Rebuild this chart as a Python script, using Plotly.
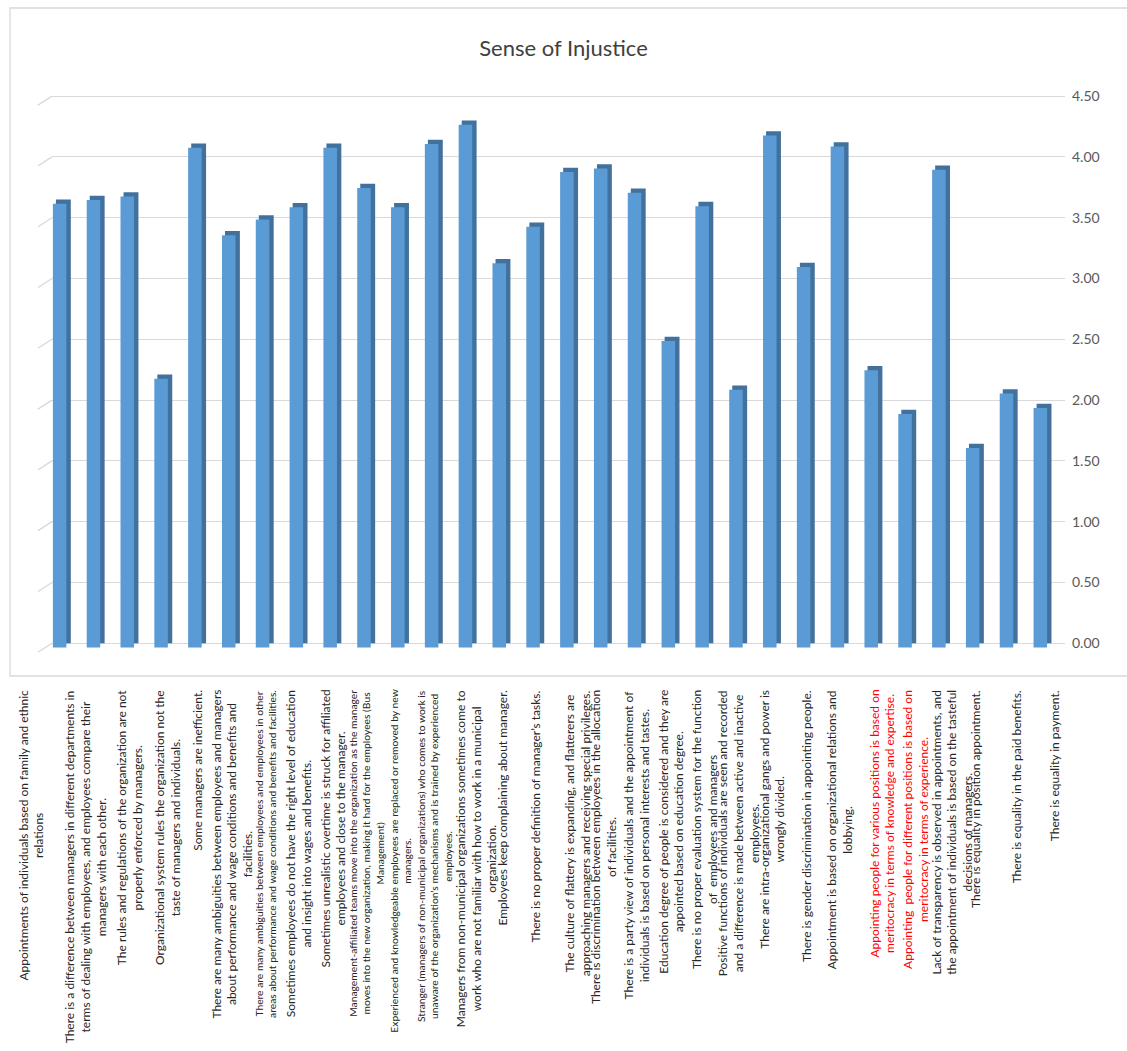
import plotly.graph_objects as go

# Survey statements (category axis) and their mean scores
statements = [
    "Appointments of individuals based on family and ethnic<br>relations",
    "There is a difference between managers in different departments in<br>terms of dealing with employees, and employees compare their<br>managers with each other.",
    "The rules and regulations of the organization are not<br>properly enforced by managers.",
    "Organizational system rules the organization not the<br>taste of managers and individuals.",
    "Some managers are inefficient.",
    "There are many ambiguities between employees and managers<br>about performance and wage conditions and benefits and<br>facilities.",
    "There are many ambiguities between employees and employees in other<br>areas about performance and wage conditions and benefits and facilities.",
    "Sometimes employees do not have the right level of education<br>and insight into wages and benefits.",
    "Sometimes unrealistic overtime is struck for affiliated<br>employees and close to the manager.",
    "Management-affiliated teams move into the organization as the manager<br>moves into the new organization, making it hard for the employees (Bus<br>Management)",
    "Experienced and knowledgeable employees are replaced or removed by new<br>managers.",
    "Stranger (managers of non-municipal organizations) who comes to work is<br>unaware of the organization\u2019s mechanisms and is trained by experienced<br>employees.",
    "Managers from non-municipal organizations sometimes come to<br>work who are not familiar with how to work in a municipal<br>organization.",
    "Employees keep complaining about manager.",
    "There is no proper definition of manager\u2019s tasks.",
    "The culture of flattery is expanding, and flatterers are<br>approaching managers and receiving special privileges.",
    "There is discrimination between employees in the allocation<br>of facilities.",
    "There is a party view of individuals and the appointment of<br>individuals is based on personal interests and tastes.",
    "Education degree of people is considered and they are<br>appointed based on education degree.",
    "There is no proper evaluation system for the function<br>of  employees and managers",
    "Positive functions of individuals are seen and recorded<br>and a difference is made between active and inactive<br>employees.",
    "There are intra-organizational gangs and power is<br>wrongly divided.",
    "There is gender discrimination in appointing people.",
    "Appointment is based on organizational relations and<br>lobbying.",
    "Appointing people for various positions is based on<br>meritocracy in terms of knowledge and expertise.",
    "Appointing  people for different positions is based on<br>meritocracy in terms of experience.",
    "Lack of transparency is observed in appointments, and<br>the appointment of individuals is based on the tasteful<br>decisions of managers.",
    "There is equality in position appointment.",
    "There is equality in the paid benefits.",
    "There is equality in payment.",
]

scores = [3.65, 3.68, 3.71, 2.21, 4.11, 3.39, 3.52, 3.62, 4.11, 3.78,
          3.62, 4.14, 4.30, 3.16, 3.46, 3.91, 3.94, 3.74, 2.52, 3.63,
          2.12, 4.21, 3.13, 4.12, 2.28, 1.92, 3.93, 1.64, 2.09, 1.97]

tick_values = [0.0, 0.5, 1.0, 1.5, 2.0, 2.5, 3.0, 3.5, 4.0, 4.5]
tick_labels = ["0.00", "0.50", "1.00", "1.50", "2.00", "2.50", "3.00", "3.50", "4.00", "4.50"]

title_text = "Sense of Injustice"

# statements highlighted in red / set in a smaller type
red_items = {24, 25}
small_items = {6, 9, 10, 11}

# ---- layout geometry (pixels) ----
W, H = 1127, 1051
PLOT_L, PLOT_R = 52, 1065
PLOT_T, PLOT_B = 90, 653
Y_RANGE = [-0.08, 4.55]
X_RANGE = [-0.296, len(statements) - 1 + 0.66]
LABEL_TOP = 688

FRONT = "#5B9BD5"
DEPTH = "#41719C"
GRID = "#D9D9D9"
FONT = "Lato"


def paper_x(px):
    return (px - PLOT_L) / (PLOT_R - PLOT_L)


def paper_y(py):
    return (PLOT_B - py) / (PLOT_B - PLOT_T)


fig = go.Figure()

# darker block behind each column: gives the right side and top bevel
fig.add_trace(go.Bar(
    x=statements, y=scores, base=0.0,
    offset=-0.18, width=0.44,
    marker=dict(color=DEPTH, line=dict(width=0)),
    hoverinfo="skip", showlegend=False,
))
# front face of each column
fig.add_trace(go.Bar(
    x=statements, y=scores, base=-0.035,
    offset=-0.27, width=0.40,
    marker=dict(color=FRONT, line=dict(width=0)),
    showlegend=False,
))

shapes = []
# chart frame
shapes.append(dict(type="rect", xref="paper", yref="paper",
                   x0=paper_x(10), x1=paper_x(1140), y0=paper_y(676), y1=paper_y(8),
                   line=dict(color=GRID, width=1.3), fillcolor="rgba(0,0,0,0)", layer="below"))
# small receding side-wall segments at the left end of every gridline
for tv in tick_values:
    shapes.append(dict(type="line", xref="paper", yref="y",
                       xsizemode="pixel", xanchor=0, x0=-14, x1=0,
                       ysizemode="pixel", yanchor=tv, y0=-9, y1=0,
                       line=dict(color=GRID, width=1.3), layer="below"))

annotations = []
# horizontal nudges of individual statement labels (pixels)
x_shift = {0: -31, 1: -11, 3: 4, 12: 8, 15: 8, 24: 8, 25: 8, 26: 10, 28: 8, 29: 12}
for i, text in enumerate(statements):
    annotations.append(dict(
        x=i, xref="x", y=0, yref="paper",
        yshift=-(LABEL_TOP - PLOT_B), xshift=x_shift.get(i, 0),
        text=text, showarrow=False, textangle=-90,
        xanchor="center", yanchor="top", align="center",
        font=dict(family=FONT, size=10.3 if i in small_items else 12,
                  color="#FF0000" if i in red_items else "#262626"),
    ))

fig.update_layout(
    width=W, height=H, autosize=False,
    margin=dict(l=PLOT_L, r=W - PLOT_R, t=PLOT_T, b=H - PLOT_B, pad=0),
    paper_bgcolor="white", plot_bgcolor="white",
    barmode="overlay",
    title=dict(text=title_text, x=0.5, xref="container", xanchor="center",
               y=1 - 48 / H, yref="container", yanchor="middle",
               font=dict(family=FONT, size=22, color="#404040")),
    xaxis=dict(type="category", range=X_RANGE, showticklabels=False,
               showgrid=False, zeroline=False, showline=False, ticks=""),
    yaxis=dict(side="right", range=Y_RANGE, tickvals=tick_values, ticktext=tick_labels,
               showgrid=True, gridcolor=GRID, gridwidth=1.3,
               zeroline=False, showline=False, ticks="",
               ticklabelstandoff=6,
               tickfont=dict(family=FONT, size=14, color="#595959")),
    shapes=shapes,
    annotations=annotations,
    font=dict(family=FONT),
)

fig.write_html("out.html")
